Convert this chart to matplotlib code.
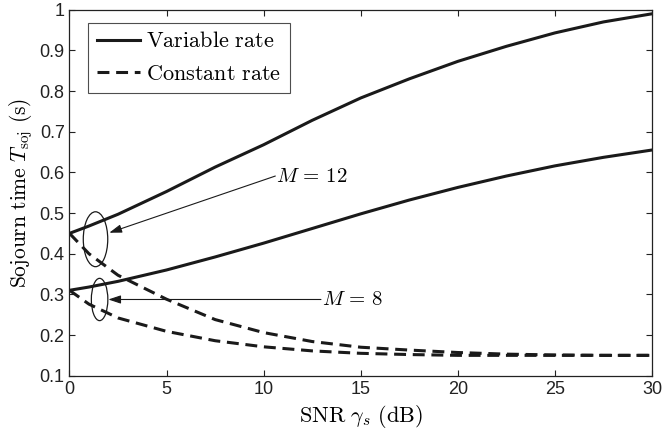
import matplotlib
matplotlib.use("Agg")
import matplotlib.pyplot as plt
from matplotlib.patches import Ellipse

# SNR (dB)
snr = [0, 1, 2.5, 5, 7.5, 10, 12.5, 15, 17.5, 20, 22.5, 25, 27.5, 30]

# Sojourn time (s)
var_m12 = [0.45, 0.468, 0.497, 0.553, 0.613, 0.668, 0.728, 0.783, 0.830, 0.873, 0.910, 0.943, 0.970, 0.99]
var_m8 = [0.31, 0.318, 0.332, 0.360, 0.392, 0.426, 0.462, 0.498, 0.532, 0.563, 0.591, 0.616, 0.637, 0.655]
const_m12 = [0.45, 0.40, 0.347, 0.288, 0.238, 0.206, 0.184, 0.170, 0.163, 0.157, 0.153, 0.151, 0.150, 0.150]
const_m8 = [0.31, 0.276, 0.242, 0.209, 0.186, 0.171, 0.161, 0.155, 0.152, 0.150, 0.150, 0.150, 0.150, 0.150]

xticks = [0, 5, 10, 15, 20, 25, 30]
yticks = [0.1, 0.2, 0.3, 0.4, 0.5, 0.6, 0.7, 0.8, 0.9, 1.0]
ytick_labels = ["0.1", "0.2", "0.3", "0.4", "0.5", "0.6", "0.7", "0.8", "0.9", "1"]

plt.rcParams["mathtext.fontset"] = "cm"
plt.rcParams["font.family"] = "Liberation Sans"

fig = plt.figure(figsize=(6.65, 4.3), dpi=100)
ax = fig.add_axes([0.1045, 0.1263, 0.876, 0.8511])

col = "#1a1a1a"
ax.plot(snr, var_m12, color=col, lw=2.2, label=r"$\mathrm{Variable\ rate}$")
ax.plot(snr, const_m12, color=col, lw=2.2, dashes=(3.9, 2.2), label=r"$\mathrm{Constant\ rate}$")
ax.plot(snr, var_m8, color=col, lw=2.2)
ax.plot(snr, const_m8, color=col, lw=2.2, dashes=(3.9, 2.2))

# ellipses marking the curve pairs
ax.add_patch(Ellipse((1.34, 0.4356), 1.26, 0.135, fill=False, lw=0.9, color=col))
ax.add_patch(Ellipse((1.55, 0.2874), 0.85, 0.104, fill=False, lw=0.9, color=col))

arrow = dict(arrowstyle="-|>,head_length=0.75,head_width=0.25", color=col, lw=0.8,
             shrinkA=0, shrinkB=0)
ax.annotate("", xy=(2.05, 0.4516), xytext=(10.6, 0.591), arrowprops=arrow)
ax.annotate("", xy=(2.0, 0.2874), xytext=(12.95, 0.2874), arrowprops=arrow)
ax.text(10.65, 0.591, r"$M\,=\,12$", fontsize=15, va="center", ha="left")
ax.text(13.0, 0.2874, r"$M\,=\,8$", fontsize=15, va="center", ha="left")

ax.set_xlim(0, 30)
ax.set_ylim(0.1, 1.0)
ax.set_xticks(xticks)
ax.set_yticks(yticks)
ax.set_yticklabels(ytick_labels)
ax.tick_params(direction="in", top=True, right=True, length=4, width=0.8,
               labelsize=13, colors="#222222")
for s in ax.spines.values():
    s.set_linewidth(0.9)
    s.set_color("#222222")

ax.set_xlabel(r"$\mathrm{SNR}\ \gamma_s\ \mathrm{(dB)}$", fontsize=16, labelpad=4)
ax.set_ylabel(r"$\mathrm{Sojourn\ time}\ T_{\mathrm{soj}}\ \mathrm{(s)}$", fontsize=15.5, labelpad=3)

leg = ax.legend(loc="upper left", bbox_to_anchor=(0.032, 0.965), fontsize=16,
                frameon=True, fancybox=False, edgecolor="#222222",
                handlelength=1.95, handletextpad=0.25, borderpad=0.4, labelspacing=0.5,
                borderaxespad=0)
leg.get_frame().set_linewidth(0.8)

plt.savefig("out.png", dpi=100)
